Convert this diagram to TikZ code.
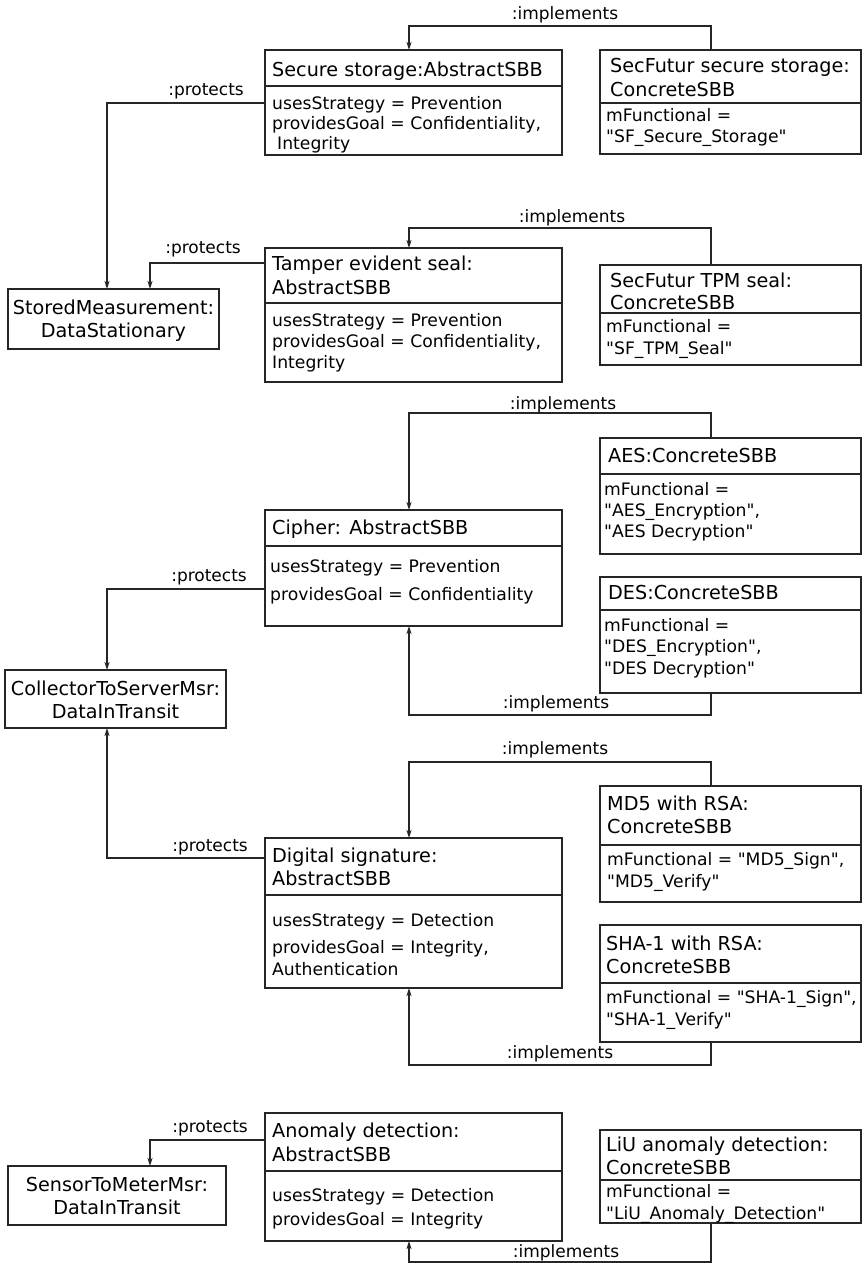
\documentclass[tikz,border=0pt]{standalone}
\usepackage{fontspec}
\setmainfont{DejaVu Sans}
\usetikzlibrary{arrows.meta}

% straight double quote, kept out of the TeX ligature mapping
\newcommand{\sbbq}{\textquotedbl}

% one UML object box: name, left, top, width, height, y of compartment line
\newcommand{\sbbbox}[6]{%
  \node[objbox, minimum width=#4pt, minimum height=#5pt] (#1) at (#2,#3) {};
  \draw[wire] (#2,#6) -- ++(#4,0);
}

\begin{document}
\begin{tikzpicture}[x=1pt,y=-1pt,
  wire/.style={line width=1.2pt, draw=black!85},
  objbox/.style={wire, rectangle, inner sep=0pt, outer sep=0pt, anchor=north west},
  ttl/.style={font=\fontsize{19.2}{23}\selectfont, inner sep=0pt, anchor=base west},
  ctr/.style={font=\fontsize{19.2}{23}\selectfont, inner sep=0pt, anchor=base},
  attr/.style={font=\fontsize{17.2}{21}\selectfont, inner sep=0pt, anchor=base west},
  lbl/.style={font=\fontsize{17}{21}\selectfont, inner sep=0pt},
  arr/.style={wire, -{Stealth[length=8pt, width=5pt, inset=2pt]}}
]
\useasboundingbox (0,0) rectangle (864,1263);

% ---------- Secure storage ----------
\sbbbox{ss}{265}{50}{297}{105}{86}
\node[ttl]  (ss1) at (272,76)  {Secure storage:AbstractSBB};
\node[attr] (ss2) at (272,109) {usesStrategy = Prevention};
\node[attr] (ss3) at (272,129) {providesGoal = Confidentiality,};
\node[attr] (ss4) at (277,149) {Integrity};

\sbbbox{sfss}{600}{50}{261}{104}{103}
\node[ttl]  (sf1) at (610,73)  {SecFutur secure storage:};
\node[ttl]  (sf2) at (610,96)  {ConcreteSBB};
\node[attr] (sf3) at (606,121) {mFunctional =};
\node[attr] (sf4) at (606,142) {\sbbq SF\_Secure\_Storage\sbbq};

% ---------- Tamper evident seal ----------
\sbbbox{tes}{265}{248}{297}{134}{303}
\node[ttl]  (te1) at (272,270) {Tamper evident seal:};
\node[ttl]  (te2) at (272,294) {AbstractSBB};
\node[attr] (te3) at (272,326) {usesStrategy = Prevention};
\node[attr] (te4) at (272,347) {providesGoal = Confidentiality,};
\node[attr] (te5) at (272,368) {Integrity};

\sbbbox{tpm}{600}{265}{261}{100}{313}
\node[ttl]  (tp1) at (610,287) {SecFutur TPM seal:};
\node[ttl]  (tp2) at (610,309) {ConcreteSBB};
\node[attr] (tp3) at (606,332) {mFunctional =};
\node[attr] (tp4) at (606,354) {\sbbq SF\_TPM\_Seal\sbbq};

% ---------- Stored measurement ----------
\node[objbox, minimum width=211pt, minimum height=60pt] (sm) at (8,289) {};
\node[ctr] (sm1) at (113.5,314) {StoredMeasurement:};
\node[ctr] (sm2) at (113.5,337) {DataStationary};

% ---------- Cipher ----------
\sbbbox{cip}{265}{510}{297}{116}{546}
\node[ttl]  (ci1) at (272,534) {Cipher: AbstractSBB};
\node[attr] (ci2) at (270,572) {usesStrategy = Prevention};
\node[attr] (ci3) at (270,600) {providesGoal = Confidentiality};

\sbbbox{aes}{600}{438}{261}{116}{474}
\node[ttl]  (ae1) at (608,462) {AES:ConcreteSBB};
\node[attr] (ae2) at (604,495) {mFunctional =};
\node[attr] (ae3) at (604,516) {\sbbq AES\_Encryption\sbbq,};
\node[attr] (ae4) at (604,537) {\sbbq AES Decryption\sbbq};

\sbbbox{des}{600}{577}{261}{116}{610}
\node[ttl]  (de1) at (608,599) {DES:ConcreteSBB};
\node[attr] (de2) at (604,631) {mFunctional =};
\node[attr] (de3) at (604,652) {\sbbq DES\_Encryption\sbbq,};
\node[attr] (de4) at (604,674) {\sbbq DES Decryption\sbbq};

% ---------- Collector to server ----------
\node[objbox, minimum width=221pt, minimum height=58pt] (cts) at (5,670) {};
\node[ctr] (ct1) at (115.5,695) {CollectorToServerMsr:};
\node[ctr] (ct2) at (115.5,718) {DataInTransit};

% ---------- Digital signature ----------
\sbbbox{dig}{265}{838}{297}{150}{895}
\node[ttl]  (dg1) at (272,862) {Digital signature:};
\node[ttl]  (dg2) at (272,885) {AbstractSBB};
\node[attr] (dg3) at (272,926) {usesStrategy = Detection};
\node[attr] (dg4) at (272,953) {providesGoal = Integrity,};
\node[attr] (dg5) at (272,975) {Authentication};

\sbbbox{md5}{600}{786}{261}{116}{845}
\node[ttl]  (md1) at (607,810) {MD5 with RSA:};
\node[ttl]  (md2) at (607,833) {ConcreteSBB};
\node[attr] (md3) at (607,865) {mFunctional = \sbbq MD5\_Sign\sbbq,};
\node[attr] (md4) at (607,887) {\sbbq MD5\_Verify\sbbq};

\sbbbox{sha}{600}{925}{261}{117}{983}
\node[ttl]  (sh1) at (606,950)  {SHA-1 with RSA:};
\node[ttl]  (sh2) at (606,973)  {ConcreteSBB};
\node[attr] (sh3) at (606,1003) {mFunctional = \sbbq SHA-1\_Sign\sbbq,};
\node[attr] (sh4) at (606,1025) {\sbbq SHA-1\_Verify\sbbq};

% ---------- Anomaly detection ----------
\sbbbox{ano}{265}{1113}{297}{128}{1171}
\node[ttl]  (an1) at (272,1137) {Anomaly detection:};
\node[ttl]  (an2) at (272,1161) {AbstractSBB};
\node[attr] (an3) at (272,1201) {usesStrategy = Detection};
\node[attr] (an4) at (272,1225) {providesGoal = Integrity};

\sbbbox{liu}{600}{1130}{261}{93}{1180}
\node[ttl]  (li1) at (606,1151) {LiU anomaly detection:};
\node[ttl]  (li2) at (606,1174) {ConcreteSBB};
\node[attr] (li3) at (606,1197) {mFunctional =};
\node[attr] (li4) at (606,1219) {\sbbq LiU\_Anomaly\_Detection\sbbq};

\node[objbox, minimum width=218pt, minimum height=59pt] (stm) at (8,1166) {};
\node[ctr] (st1) at (117,1191) {SensorToMeterMsr:};
\node[ctr] (st2) at (117,1214) {DataInTransit};

% ---------- connector bends ----------
\coordinate (i1a) at (711,26);   \coordinate (i1b) at (409,26);
\coordinate (i2a) at (711,228);  \coordinate (i2b) at (409,228);
\coordinate (i3a) at (711,413);  \coordinate (i3b) at (409,413);
\coordinate (i4a) at (711,715);  \coordinate (i4b) at (409,715);
\coordinate (i5a) at (711,762);  \coordinate (i5b) at (409,762);
\coordinate (i6a) at (711,1065); \coordinate (i6b) at (409,1065);
\coordinate (i7a) at (711,1262); \coordinate (i7b) at (409,1262);
\coordinate (p1a) at (107,103);  \coordinate (p2a) at (150,263);
\coordinate (p3a) at (107,589);  \coordinate (p4a) at (107,858);
\coordinate (p5a) at (150,1140);

% ---------- implements ----------
\draw[arr] (i1a |- sfss.north) -- (i1a) -- (i1b) -- (i1b |- ss.north);
\draw[arr] (i2a |- tpm.north)  -- (i2a) -- (i2b) -- (i2b |- tes.north);
\draw[arr] (i3a |- aes.north)  -- (i3a) -- (i3b) -- (i3b |- cip.north);
\draw[arr] (i4a |- des.south)  -- (i4a) -- (i4b) -- (i4b |- cip.south);
\draw[arr] (i5a |- md5.north)  -- (i5a) -- (i5b) -- (i5b |- dig.north);
\draw[arr] (i6a |- sha.south)  -- (i6a) -- (i6b) -- (i6b |- dig.south);
\draw[arr] (i7a |- liu.south)  -- (i7a) -- (i7b) -- (i7b |- ano.south);

\node[lbl, anchor=base] (li-1) at (565,20)   {:implements};
\node[lbl, anchor=base] (li-2) at (572,222)  {:implements};
\node[lbl, anchor=base] (li-3) at (563,409)  {:implements};
\node[lbl, anchor=base] (li-4) at (556,708)  {:implements};
\node[lbl, anchor=base] (li-5) at (555,754)  {:implements};
\node[lbl, anchor=base] (li-6) at (560,1058) {:implements};
\node[lbl, anchor=base] (li-7) at (566,1257) {:implements};

% ---------- protects ----------
\draw[arr] (p1a -| ss.west)  -- (p1a) -- (p1a |- sm.north);
\draw[arr] (p2a -| tes.west) -- (p2a) -- (p2a |- sm.north);
\draw[arr] (p3a -| cip.west) -- (p3a) -- (p3a |- cts.north);
\draw[arr] (p4a -| dig.west) -- (p4a) -- (p4a |- cts.south);
\draw[arr] (p5a -| ano.west) -- (p5a) -- (p5a |- stm.north);

\node[lbl, anchor=base east] (lp-1) at (244,95)   {:protects};
\node[lbl, anchor=base east] (lp-2) at (241,253)  {:protects};
\node[lbl, anchor=base east] (lp-3) at (247,581)  {:protects};
\node[lbl, anchor=base east] (lp-4) at (248,851)  {:protects};
\node[lbl, anchor=base east] (lp-5) at (248,1132) {:protects};
\end{tikzpicture}
\end{document}
